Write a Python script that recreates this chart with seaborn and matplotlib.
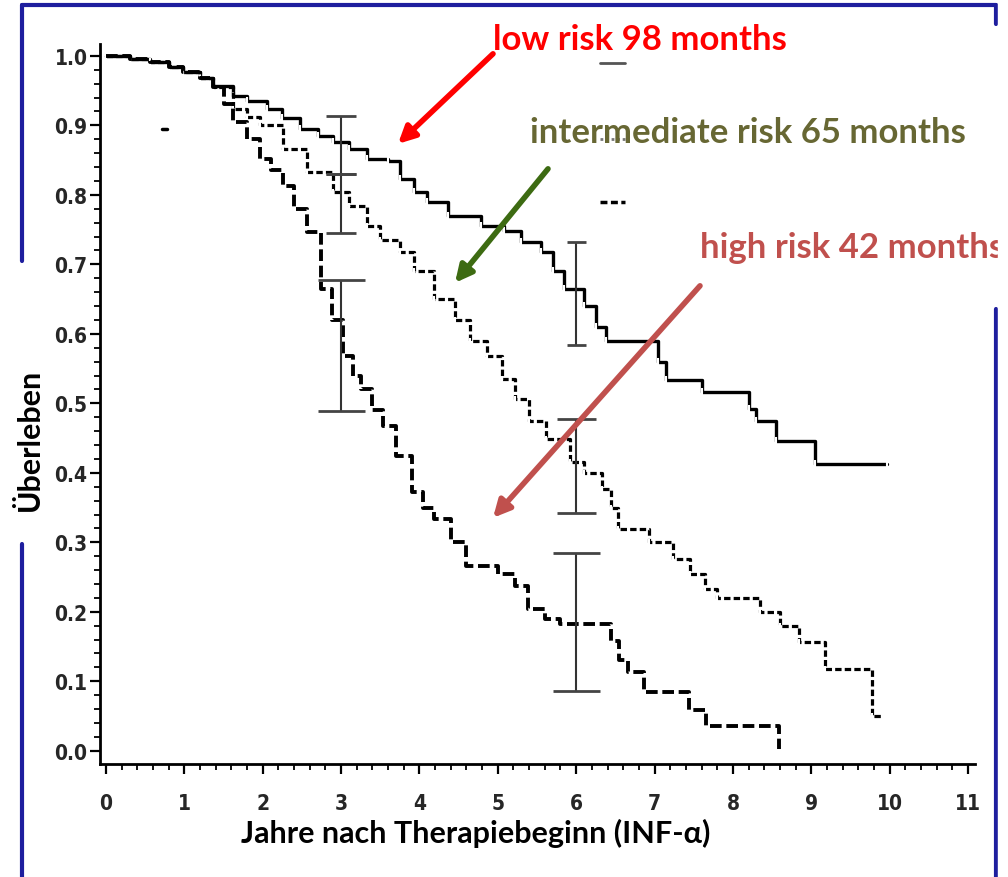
import matplotlib
matplotlib.use("Agg")
import matplotlib.pyplot as plt
import seaborn as sns
import pandas as pd
from matplotlib.ticker import MultipleLocator, FixedLocator
from matplotlib.lines import Line2D

# Kaplan-Meier step points (years, survival)
low_t = [0, 0.3, 0.56, 0.8, 0.98, 1.2, 1.37, 1.62, 1.8, 2.05, 2.25, 2.48, 2.7, 2.9, 3.1, 3.33, 3.6,
         3.75, 3.93, 4.1, 4.36, 4.78, 5.08, 5.3, 5.55, 5.7, 5.85, 6.1, 6.25, 6.38, 7.05, 7.15, 7.6,
         8.2, 8.3, 8.55, 9.05, 9.97]
low_s = [1.0, 0.996, 0.991, 0.984, 0.977, 0.968, 0.957, 0.942, 0.935, 0.924, 0.91, 0.895, 0.885, 0.876,
         0.866, 0.852, 0.849, 0.823, 0.804, 0.79, 0.77, 0.755, 0.748, 0.732, 0.718, 0.69, 0.665, 0.64,
         0.61, 0.589, 0.56, 0.533, 0.516, 0.492, 0.475, 0.446, 0.413, 0.413]

int_t = [0, 0.3, 0.56, 0.8, 0.98, 1.2, 1.37, 1.62, 1.8, 1.97, 2.26, 2.56, 2.9, 3.1, 3.33, 3.5, 3.75,
         3.93, 4.19, 4.45, 4.65, 4.86, 5.05, 5.22, 5.4, 5.61, 5.92, 6.1, 6.33, 6.45, 6.53, 6.93, 7.24,
         7.45, 7.65, 7.8, 8.35, 8.6, 8.84, 9.17, 9.77, 9.92]
int_s = [1.0, 0.996, 0.991, 0.984, 0.977, 0.968, 0.955, 0.924, 0.912, 0.9, 0.866, 0.833, 0.804, 0.784,
         0.755, 0.735, 0.718, 0.69, 0.65, 0.62, 0.59, 0.568, 0.535, 0.506, 0.475, 0.449, 0.416, 0.4,
         0.377, 0.35, 0.319, 0.3, 0.276, 0.255, 0.233, 0.22, 0.2, 0.18, 0.157, 0.118, 0.05, 0.05]

high_t = [0, 0.3, 0.56, 0.8, 0.98, 1.2, 1.37, 1.5, 1.62, 1.8, 1.97, 2.1, 2.26, 2.4, 2.56, 2.74, 2.88,
          3.03, 3.15, 3.25, 3.4, 3.54, 3.7, 3.9, 4.05, 4.19, 4.4, 4.6, 5.0, 5.22, 5.38, 5.6, 5.8, 6.45,
          6.55, 6.66, 6.87, 7.44, 7.66, 8.59]
high_s = [1.0, 0.996, 0.991, 0.984, 0.977, 0.968, 0.955, 0.93, 0.905, 0.88, 0.852, 0.835, 0.813, 0.78,
          0.747, 0.665, 0.62, 0.568, 0.54, 0.52, 0.49, 0.468, 0.424, 0.373, 0.35, 0.334, 0.3, 0.266,
          0.255, 0.237, 0.204, 0.19, 0.183, 0.158, 0.13, 0.114, 0.085, 0.058, 0.036, 0.003]

# confidence intervals drawn at 3 and 6 years (low, intermediate, high)
ci_t = [3, 3, 3, 6, 6, 6]
ci_lo = [0.83, 0.745, 0.489, 0.584, 0.342, 0.086]
ci_hi = [0.914, 0.83, 0.678, 0.732, 0.478, 0.285]
ci_cap = [0.19, 0.19, 0.3, 0.12, 0.25, 0.3]

y_ticks = [0.0, 0.1, 0.2, 0.3, 0.4, 0.5, 0.6, 0.7, 0.8, 0.9, 1.0]
x_ticks = list(range(0, 12))

W, H = 1008, 878
sns.set_style("white")
plt.rcParams['font.family'] = ['Lato', 'DejaVu Sans']

fig = plt.figure(figsize=(W / 100, H / 100), dpi=100)
ax = fig.add_axes([100 / W, 1 - 765 / H, 875 / W, 720 / H])

df_low = pd.DataFrame({"t": low_t, "s": low_s})
df_int = pd.DataFrame({"t": int_t, "s": int_s})
df_high = pd.DataFrame({"t": high_t, "s": high_s})

sns.lineplot(data=df_low, x="t", y="s", ax=ax, color="black", lw=2.4, drawstyle="steps-post",
             estimator=None, sort=False, marker="|", markersize=6, mew=1.5)
sns.lineplot(data=df_int, x="t", y="s", ax=ax, color="black", lw=2.3, drawstyle="steps-post",
             estimator=None, sort=False, dashes=False, linestyle=(0, (2, 1)), marker="|",
             markersize=5, mew=1.5)
sns.lineplot(data=df_high, x="t", y="s", ax=ax, color="black", lw=2.8, drawstyle="steps-post",
             estimator=None, sort=False, linestyle=(0, (3, 1.2)))

# error bars
ax.vlines(ci_t, ci_lo, ci_hi, color="#333333", lw=1.5)
for t, lo, hi, c in zip(ci_t, ci_lo, ci_hi, ci_cap):
    ax.hlines([lo, hi], t - c, t + c, color="#444444", lw=2)

# leftover legend marks from the scan
ax.plot([6.3, 6.62], [0.99, 0.99], color="#555555", lw=2)
ax.plot([6.3, 6.62], [0.88, 0.88], color="#777777", lw=2, linestyle=(0, (1, 1)))
ax.plot([6.3, 6.62], [0.79, 0.79], color="black", lw=2.5, linestyle=(0, (2, 1)))
ax.plot([0.71, 0.78], [0.895, 0.895], color="black", lw=2.5)

ax.set_xlim(-0.077, 11.09)
ax.set_ylim(-0.019, 1.017)
ax.set_xlabel("")
ax.set_ylabel("")
sns.despine(ax=ax)
for sp in ["left", "bottom"]:
    ax.spines[sp].set_color("black")
    ax.spines[sp].set_linewidth(2)

tick_font = dict(family='DejaVu Sans', stretch='condensed', weight='bold', size=15)
ax.xaxis.set_major_locator(FixedLocator(x_ticks))
ax.xaxis.set_minor_locator(MultipleLocator(0.2))
ax.yaxis.set_major_locator(FixedLocator(y_ticks))
ax.yaxis.set_minor_locator(MultipleLocator(0.02))
ax.set_xticklabels([str(v) for v in x_ticks], fontdict=tick_font)
ax.set_yticklabels([f"{v:.1f}" for v in y_ticks], fontdict=tick_font)
ax.tick_params(axis="both", which="both", bottom=True, left=True, direction="out",
               color="black")
ax.tick_params(axis="both", which="major", length=7, width=1.6)
ax.tick_params(axis="both", which="minor", length=4, width=1.3)
ax.tick_params(axis="x", which="major", pad=14)
ax.tick_params(axis="y", which="major", pad=2)

# annotation texts and arrows
def px(x, y):
    return (x - 106) / 78.36, (752 - y) / 695.0

txt = dict(weight="bold", fontsize=25, va="center", ha="left", clip_on=False)
ax.text(*px(493, 40), "low risk 98 months", color="#FF0000", **txt)
ax.text(*px(530, 133), "intermediate risk 65 months", color="#676733", **txt)
ax.text(*px(700, 248), "high risk 42 months", color="#C0504D", **txt)

for (x0, y0, x1, y1, c) in [(493, 55, 398, 145, "#FF0000"),
                            (548, 170, 455, 284, "#3D6B12"),
                            (700, 287, 493, 519, "#C0504D")]:
    ax.annotate("", xy=px(x1, y1), xytext=px(x0, y0), annotation_clip=False,
                arrowprops=dict(arrowstyle="-|>,head_length=1.0,head_width=0.5", color=c,
                                lw=4, shrinkA=0, shrinkB=0))

fig.text(30 / W, 1 - 440 / H, "Überleben", rotation=90, weight="bold", fontsize=22,
         ha="center", va="center", color="black")
fig.text(476 / W, 1 - 833 / H, "Jahre nach Therapiebeginn (INF-α)", weight="bold", fontsize=22,
         ha="center", va="center", color="black")

# blue slide frame
blue = "#1E1E9E"
fig.add_artist(Line2D([22 / W, 996 / W], [1 - 6 / H, 1 - 6 / H], color=blue, lw=3))
fig.add_artist(Line2D([22 / W, 22 / W], [1 - 6 / H, 1 - 262 / H], color=blue, lw=3))
fig.add_artist(Line2D([22 / W, 22 / W], [1 - 545 / H, 0], color=blue, lw=3))
fig.add_artist(Line2D([996 / W, 996 / W], [1 - 6 / H, 1 - 25 / H], color=blue, lw=3))
fig.add_artist(Line2D([996 / W, 996 / W], [1 - 310 / H, 0], color=blue, lw=3))
fig.add_artist(plt.Rectangle((998 / W, 0), 10 / W, 1, transform=fig.transFigure,
                             color="white", zorder=10))

fig.savefig("out.png", dpi=100)
